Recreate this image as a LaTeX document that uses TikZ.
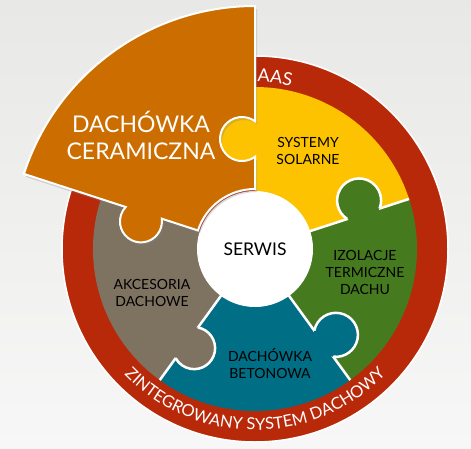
\documentclass[tikz,border=0pt]{standalone}
\usepackage{fontspec}
\setmainfont{Lato}
\usetikzlibrary{decorations.text,shadows}
\definecolor{bgtop}{RGB}{232,232,230}
\definecolor{bgbot}{RGB}{247,247,247}
\definecolor{ringred}{RGB}{184,41,10}
\definecolor{cOrange}{RGB}{204,109,0}
\definecolor{cYellow}{RGB}{253,195,0}
\definecolor{cGreen}{RGB}{70,122,31}
\definecolor{cTeal}{RGB}{0,110,133}
\definecolor{cGrey}{RGB}{126,114,97}
\tikzset{
  sep/.style={draw=white, line width=2.5pt},
  smalllbl/.style={align=center, text=black, inner sep=0pt, font=\fontsize{14}{17}\selectfont},
  biglbl/.style={align=center, text=white, inner sep=0pt, font=\fontsize{23}{27}\selectfont},
}
\newcommand\puzzleknob[5]{% angle, radial pos, offset, radius, colour
  \pgfmathsetmacro\kAlpha{asin(#3/#4)}%
  \pgfmathsetmacro\kH{sqrt(#4*#4-#3*#3)}%
  \begin{scope}[rotate=#1]
    \fill[#5] (#2,#3) circle[radius=#4];
    \draw[sep] (#2-\kH,0) arc[start angle=180+\kAlpha, end angle=-\kAlpha, radius=#4];
  \end{scope}
}
\begin{document}
\begin{tikzpicture}[x=1pt,y=1pt]
\useasboundingbox (0,0) rectangle (471,448);
\shade[top color=bgtop, bottom color=bgbot] (0,0) rectangle (471,448);
\begin{scope}[shift={(255,199)}]
  % outer ring
  \fill[ringred] (0,0) circle[radius=193];
  \draw[white, line width=1.5pt] (0,0) circle[radius=193];
  % base sectors
  \fill[cYellow] (0,0) -- (90:162) arc[start angle=90, end angle=18, radius=162] -- cycle;
  \fill[cGreen] (0,0) -- (18:162) arc[start angle=18, end angle=-54, radius=162] -- cycle;
  \fill[cTeal] (0,0) -- (-54:162) arc[start angle=-54, end angle=-126, radius=162] -- cycle;
  \fill[cGrey] (0,0) -- (-126:162) arc[start angle=-126, end angle=-198, radius=162] -- cycle;
  \draw[sep] (0,0) -- (18:162);
  \draw[sep] (0,0) -- (-54:162);
  \draw[sep] (0,0) -- (-126:162);
  % knobs
  \puzzleknob{18}{114}{14}{22}{cGreen}
  \puzzleknob{-54}{117}{15}{22}{cTeal}
  \puzzleknob{-126}{116}{9}{21}{cGrey}
  \fill[cYellow] (-13,110) circle[radius=22];
  % centre circle
  \node[circle, fill=white, minimum size=116pt, inner sep=0pt,
        font=\fontsize{17.5}{20}\selectfont] (serwis) at (0,0) {SERWIS};
  % lifted orange piece
  \filldraw[fill=cOrange, draw=white, line width=2pt,
     drop shadow={shadow xshift=2pt, shadow yshift=-3pt, opacity=0.3}]
    (162:60) -- (162:98.03)
    arc[start angle=367.38, end angle=136.62, radius=21]
    -- (162:243) arc[start angle=162, end angle=90, radius=243]
    -- (90:127.75)
    arc[start angle=53.8, end angle=306.2, radius=22]
    -- (90:60) arc[start angle=90, end angle=162, radius=60] -- cycle;
  % ring texts
  \path[decorate, decoration={text along path, text align=center,
      text={|\color{white}\fontsize{16.5}{16.5}\selectfont|ZINTEGROWANY SYSTEM DACHOWY}}]
    (-135:181) arc[start angle=-135, end angle=-45, radius=181];
  \path[decorate, decoration={text along path, text align=left,
      text={|\color{white}\fontsize{18}{18}\selectfont|AAS}}]
    (89.2:167) arc[start angle=89.2, end angle=50, radius=167];
  % labels
  \node[biglbl] (lblCer) at (-114,113.5) {DACHÓWKA\\CERAMICZNA};
  \node[smalllbl] (lblSol) at (53,98) {SYSTEMY\\SOLARNE};
  \node[smalllbl] (lblIzo) at (110,-23) {IZOLACJE\\TERMICZNE\\DACHU};
  \node[smalllbl] (lblBet) at (15,-115) {DACHÓWKA\\BETONOWA};
  \node[smalllbl] (lblAkc) at (-103,-44) {AKCESORIA\\DACHOWE};
\end{scope}
\end{tikzpicture}
\end{document}
